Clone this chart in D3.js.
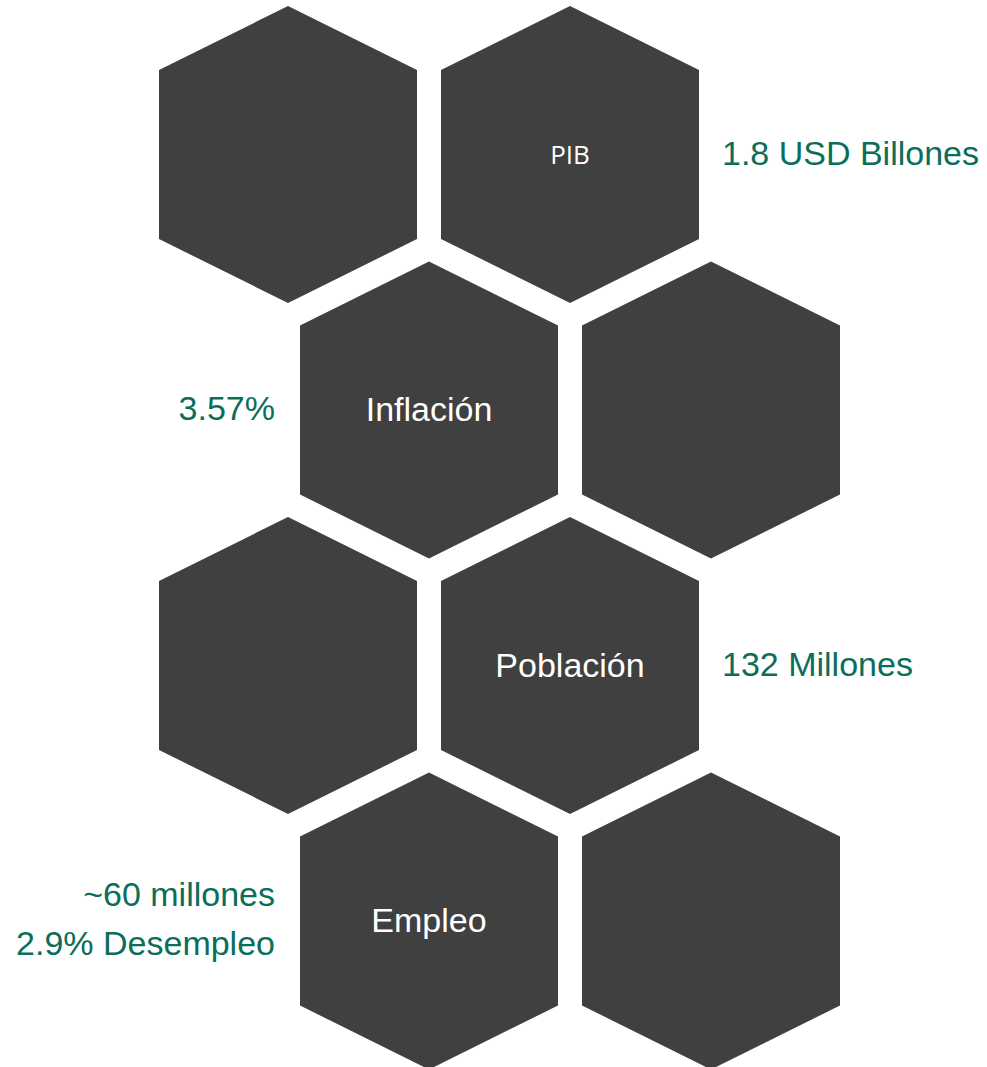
<!DOCTYPE html>
<html>
<head>
<meta charset="utf-8">
<script src="https://cdn.jsdelivr.net/npm/d3@7"></script>
<style>
  html, body { margin: 0; padding: 0; background: #fff; }
  svg { display: block; }
</style>
</head>
<body>
<div id="chart"></div>
<script>
// hex grid: row index and column (half-step offsets for the staggered rows)
var hexRows = [0, 0, 1, 1, 2, 2, 3, 3];
var hexCols = [0, 1, 0.5, 1.5, 0, 1, 0.5, 1.5];
var hexLabels = ['', 'PIB', 'Inflación', '', '', 'Población', 'Empleo', ''];
var valueLabels = [[], ['1.8 USD Billones'], ['3.57%'], [], [], ['132 Millones'], ['~60 millones', '2.9% Desempleo'], []];
var valueSide = ['', 'right', 'left', '', '', 'right', 'left', ''];

var width = 987, height = 1067;
var halfW = 129, halfH = 148.5, shoulder = 64;

var x = d3.scaleLinear().domain([0, 1]).range([288, 570]);
var y = d3.scaleLinear().domain([0, 1]).range([154.5, 410]);

var svg = d3.select('#chart').append('svg')
    .attr('width', width)
    .attr('height', height);

var hexPath = d3.line()([
    [0, -halfH], [halfW, -halfH + shoulder], [halfW, halfH - shoulder],
    [0, halfH], [-halfW, halfH - shoulder], [-halfW, -halfH + shoulder]
]) + 'Z';

var cells = hexRows.map(function(r, i) {
    return {row: r, col: hexCols[i], label: hexLabels[i], values: valueLabels[i], side: valueSide[i]};
});

var g = svg.selectAll('g.hex')
    .data(cells)
    .enter()
    .append('g')
    .classed('hex', true)
    .attr('transform', function(d) { return 'translate(' + x(d.col) + ',' + y(d.row) + ')'; });

g.append('path')
    .attr('d', hexPath)
    .style('fill', '#404040');

g.filter(function(d) { return d.label; })
    .append('text')
    .attr('text-anchor', 'middle')
    .attr('y', function(d) { return d.label === 'PIB' ? 9 : 11; })
    .style('fill', '#ffffff')
    .style('font-family', function(d) { return d.label === 'PIB' ? '"Open Sans", sans-serif' : '"Liberation Sans", Arial, sans-serif'; })
    .style('font-size', function(d) { return d.label === 'PIB' ? '26px' : '34px'; })
    .text(function(d) { return d.label; });

// green value text beside the hexagons
g.filter(function(d) { return d.values.length; })
    .selectAll('text.value')
    .data(function(d) {
        return d.values.map(function(v, j) { return {text: v, side: d.side, j: j}; });
    })
    .enter()
    .append('text')
    .classed('value', true)
    .attr('x', function(d) { return d.side === 'right' ? 152 : -154; })
    .attr('y', function(d) { return 10 + d.j * 49; })
    .attr('text-anchor', function(d) { return d.side === 'right' ? 'start' : 'end'; })
    .style('fill', '#0a6e5a')
    .style('font-family', '"Liberation Sans", Arial, sans-serif')
    .style('font-size', '34px')
    .text(function(d) { return d.text; });

// the two-line block sits a little higher
g.filter(function(d) { return d.values.length > 1; })
    .selectAll('text.value')
    .attr('y', function(d) { return -15 + d.j * 49; });
</script>
</body>
</html>
